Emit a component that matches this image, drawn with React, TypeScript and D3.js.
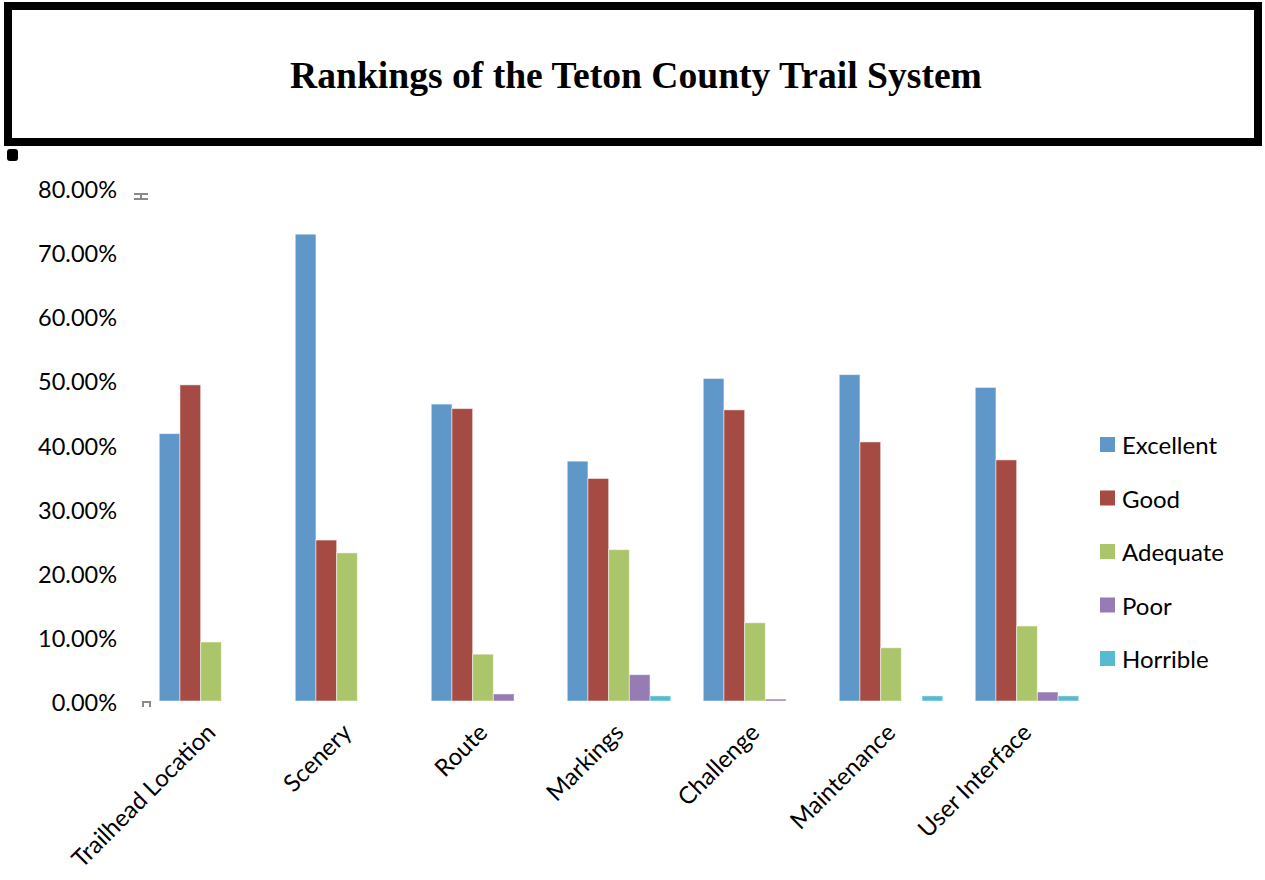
import React from "react";
import * as d3 from "d3";

const categories = ["Trailhead Location", "Scenery", "Route", "Markings", "Challenge", "Maintenance", "User Interface"];
const seriesNames = ["Excellent", "Good", "Adequate", "Poor", "Horrible"];
const excellent = [41.7, 72.8, 46.3, 37.4, 50.3, 50.9, 48.9];
const good = [49.3, 25.1, 45.6, 34.7, 45.4, 40.4, 37.6];
const adequate = [9.2, 23.1, 7.3, 23.6, 12.2, 8.3, 11.7];
const poor = [0, 0, 1.1, 4.1, 0.3, 0, 1.4];
const horrible = [0, 0, 0, 0.8, 0, 0.8, 0.8];
const yTicks = [0, 10, 20, 30, 40, 50, 60, 70, 80];
const colors = ["#6097C9", "#A64B43", "#ABC56B", "#967BB5", "#56BAD0"];
const title = "Rankings of the Teton County Trail System";

const seriesValues = [excellent, good, adequate, poor, horrible];
const FONT = "Lato, 'Open Sans', sans-serif";

export default function App() {
  const x0 = d3.scaleBand<string>().domain(categories).range([143, 1095]).paddingInner(0).paddingOuter(0);
  const bw = x0.bandwidth();
  const x1 = d3.scaleBand<string>().domain(seriesNames).range([0, bw]).paddingInner(0).paddingOuter(0.785);
  const y = d3.scaleLinear().domain([0, 80]).range([701, 188]);

  return (
    <svg width={1265} height={880} style={{ position: "absolute", left: 0, top: 0, background: "#fff" }}>
      <rect x={0} y={0} width={1265} height={880} fill="#fff" />
      {/* title box */}
      <rect x={8} y={6} width={1250} height={136} fill="#fff" stroke="#000" strokeWidth={8} />
      <text x={636} y={88} textAnchor="middle" fontFamily="'Liberation Serif', 'Times New Roman', serif" fontWeight="bold" fontSize={37.6} fill="#000">{title}</text>
      <rect x={7} y={149} width={11} height={12} rx={3} fill="#000" />

      {/* small handles */}
      <g stroke="#8a8a8a" strokeWidth={2} fill="none">
        <path d="M134,194 h14 M134,199 h14 M141,194 v5" />
        <path d="M143,707 v-5 h7 v5" />
      </g>

      {/* y axis labels */}
      {yTicks.map((t) => (
        <text key={t} x={117} y={y(t) + 10} textAnchor="end" fontFamily={FONT} fontSize={23.5} fill="#000">
          {d3.format(".2f")(t) + "%"}
        </text>
      ))}

      {/* bars */}
      {categories.map((c, ci) => (
        <g key={c} transform={`translate(${x0(c)},0)`}>
          {seriesNames.map((s, si) => {
            const v = seriesValues[si][ci];
            if (!v) return null;
            return (
              <rect key={s} x={x1(s)} y={y(v)} width={x1.bandwidth()} height={y(0) - y(v)}
                fill={colors[si]} stroke="#ffffff" strokeOpacity={0.5} strokeWidth={1} />
            );
          })}
        </g>
      ))}

      {/* category labels */}
      {categories.map((c) => {
        const cx = (x0(c) as number) + bw / 2 + 6;
        return (
          <text key={c} transform={`translate(${cx},734) rotate(-45)`} textAnchor="end" fontFamily={FONT} fontSize={24} fill="#000">
            {c}
          </text>
        );
      })}

      {/* legend */}
      {seriesNames.map((s, i) => (
        <g key={s} transform={`translate(1100,${445 + i * 53.5})`}>
          <rect x={0} y={-8} width={15} height={15} fill={colors[i]} />
          <text x={22} y={9} fontFamily={FONT} fontSize={24} fill="#000">{s}</text>
        </g>
      ))}
    </svg>
  );
}
